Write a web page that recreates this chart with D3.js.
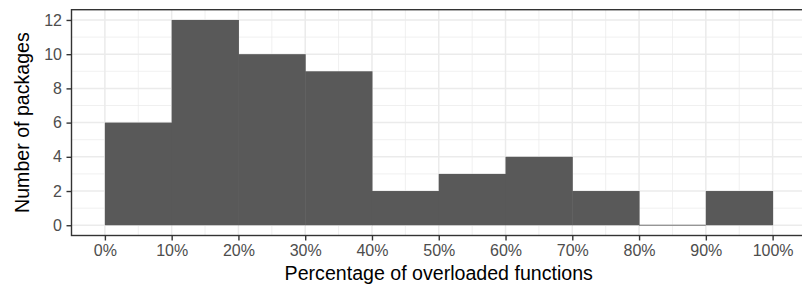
<!DOCTYPE html>
<html>
<head>
<meta charset="utf-8">
<script src="https://cdn.jsdelivr.net/npm/d3@7"></script>
<style>
  body { margin: 0; background: #fff; }
  svg { display: block; font-family: "Liberation Sans", Arial, sans-serif; }
</style>
</head>
<body>
<svg id="chart"></svg>
<script>
// bins (percent) and counts
var binStart = [0, 10, 20, 30, 40, 50, 60, 70, 80, 90];
var binEnd = [10, 20, 30, 40, 50, 60, 70, 80, 90, 100];
var counts = [6, 12, 10, 9, 2, 3, 4, 2, 0, 2];
var xTicks = [0, 10, 20, 30, 40, 50, 60, 70, 80, 90, 100];
var yTicks = [0, 2, 4, 6, 8, 10, 12];

var W = 802, H = 289;
var margin = { top: 9.7, right: -4, bottom: 53.5, left: 71.5 };
var width = W - margin.left - margin.right;
var height = H - margin.top - margin.bottom;

var svg = d3.select("#chart").attr("width", W).attr("height", H);
var g = svg.append("g").attr("transform", "translate(" + margin.left + "," + margin.top + ")");

var x = d3.scaleLinear().domain([-5, 105]).range([0, width]);
var y = d3.scaleLinear().domain([-0.6, 12.6]).range([height, 0]);

// minor grid
var xMinor = d3.range(-5, 106, 10);
var yMinor = d3.range(1, 13, 2);
g.selectAll("line.xminor").data(xMinor).enter().append("line")
  .attr("x1", function(d) { return x(d); }).attr("x2", function(d) { return x(d); })
  .attr("y1", 0).attr("y2", height)
  .attr("stroke", "#ebebeb").attr("stroke-width", 0.75);
g.selectAll("line.yminor").data(yMinor).enter().append("line")
  .attr("y1", function(d) { return y(d); }).attr("y2", function(d) { return y(d); })
  .attr("x1", 0).attr("x2", width)
  .attr("stroke", "#ebebeb").attr("stroke-width", 0.75);

// major grid
g.selectAll("line.xmajor").data(xTicks).enter().append("line")
  .attr("x1", function(d) { return x(d); }).attr("x2", function(d) { return x(d); })
  .attr("y1", 0).attr("y2", height)
  .attr("stroke", "#ebebeb").attr("stroke-width", 1.5);
g.selectAll("line.ymajor").data(yTicks).enter().append("line")
  .attr("y1", function(d) { return y(d); }).attr("y2", function(d) { return y(d); })
  .attr("x1", 0).attr("x2", width)
  .attr("stroke", "#ebebeb").attr("stroke-width", 1.5);

// bars
g.selectAll("rect.bar").data(counts).enter().append("rect")
  .attr("x", function(d, i) { return x(binStart[i]); })
  .attr("width", function(d, i) { return x(binEnd[i]) - x(binStart[i]) + 0.5; })
  .attr("y", function(d) { return y(d); })
  .attr("height", function(d) { return y(0) - y(d); })
  .attr("fill", "#595959");

// zero-height bins still draw a thin line
counts.forEach(function(d, i) {
  if (d === 0) {
    g.append("line")
      .attr("x1", x(binStart[i])).attr("x2", x(binEnd[i]))
      .attr("y1", y(0)).attr("y2", y(0))
      .attr("stroke", "#595959").attr("stroke-width", 0.8);
  }
});

// panel border
g.append("rect").attr("x", 0).attr("y", 0).attr("width", width).attr("height", height)
  .attr("fill", "none").attr("stroke", "#333333").attr("stroke-width", 1.4);

// axes
var xAxis = g.append("g").attr("transform", "translate(0," + height + ")")
  .call(d3.axisBottom(x).tickValues(xTicks).tickSize(5).tickPadding(4)
    .tickFormat(function(d) { return d + "%"; }));
var yAxis = g.append("g")
  .call(d3.axisLeft(y).tickValues(yTicks).tickSize(5).tickPadding(4.5));

[xAxis, yAxis].forEach(function(a) {
  a.select(".domain").remove();
  a.selectAll(".tick line").attr("stroke", "#333333").attr("stroke-width", 1.4);
  a.selectAll(".tick text").attr("fill", "#4d4d4d").style("font-size", "16px");
});

// titles
svg.append("text")
  .attr("x", margin.left + x(50)).attr("y", 279.5)
  .attr("text-anchor", "middle").style("font-size", "19.6px").attr("fill", "#000")
  .text("Percentage of overloaded functions");
svg.append("text")
  .attr("transform", "translate(29," + (margin.top + y(6)) + ") rotate(-90)")
  .attr("text-anchor", "middle").style("font-size", "19.6px").attr("fill", "#000")
  .text("Number of packages");
</script>
</body>
</html>
